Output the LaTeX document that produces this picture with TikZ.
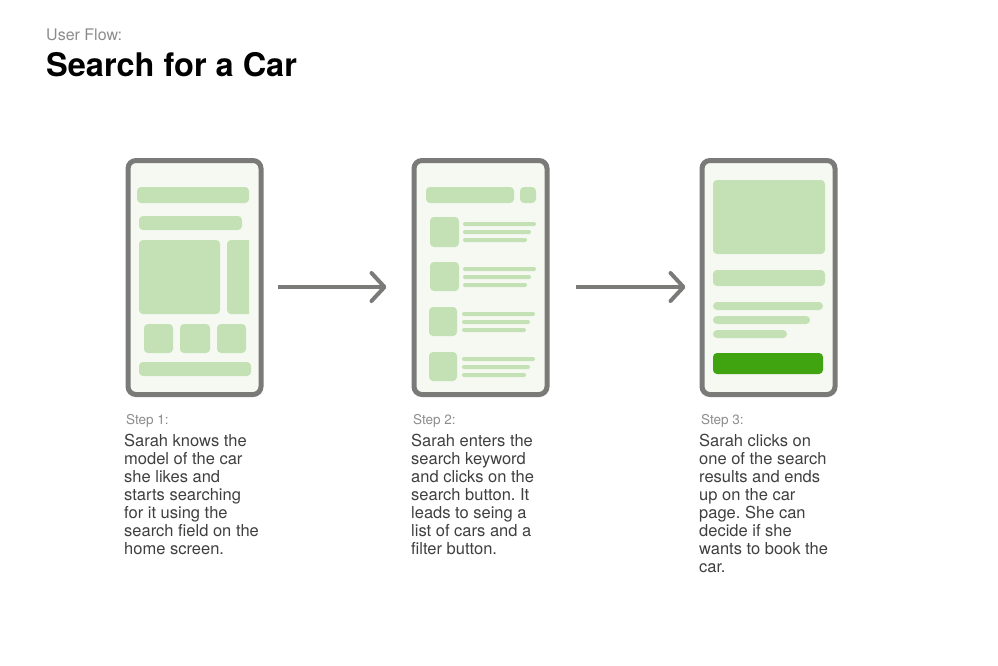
\documentclass[tikz,border=0pt]{standalone}
\usepackage{fontspec}
\setmainfont{TeX Gyre Heros}
\usetikzlibrary{arrows.meta,positioning}
\frenchspacing

\definecolor{framegray}{HTML}{7A7B79}
\definecolor{screenbg}{HTML}{F5F9F2}
\definecolor{uigreen}{HTML}{C3E1B4}
\definecolor{btngreen}{HTML}{3FA40F}
\definecolor{labelgray}{HTML}{8C8C8C}
\definecolor{bodygray}{HTML}{3F3F3F}

\begin{document}
\begin{tikzpicture}[
  x=1pt, y=-1pt,
  phone/.style={draw=framegray, fill=screenbg, line width=5pt, rounded corners=8pt,
    minimum width=133pt, minimum height=234pt, inner sep=0pt},
  block/.style={fill=uigreen, rounded corners=4pt},
  textline/.style={fill=uigreen, rounded corners=2pt},
  kicker/.style={anchor=base west, inner sep=0pt, text=labelgray, font=\fontsize{16}{19}\selectfont},
  headline/.style={anchor=base west, inner sep=0pt, font=\fontsize{32.5}{38}\selectfont\bfseries},
  steplabel/.style={anchor=base west, inner sep=0pt, text=labelgray, font=\fontsize{13.5}{16}\selectfont},
  desc/.style={anchor=north west, inner sep=0pt, align=left, text=bodygray, font=\fontsize{16.5}{18}\selectfont},
  flow/.style={draw=framegray, line width=4pt, -{Straight Barb[length=13pt, width=28pt, round]}}
]
\useasboundingbox (0,0) rectangle (998,665);

\node[kicker] (kick) at (46,40) {User Flow:};
\node[headline] (title) at (46,76) {Search for a Car};

% phones
\node[phone] (phone1) at (194.5,277.5) {};
\node[phone] (phone2) at (480.5,277.5) {};
\node[phone] (phone3) at (768.5,277.5) {};

% home screen
\fill[block] (137,187) rectangle (249,203);
\fill[block] (139,216) rectangle (242,230);
\fill[block] (139,240) rectangle (220,314);
\fill[uigreen] (249,240) [rounded corners=4pt] -- (227,240) -- (227,314) [sharp corners] -- (249,314) -- cycle;
\fill[block] (144,324) rectangle (173,353);
\fill[block] (180,324) rectangle (210,353);
\fill[block] (217,324) rectangle (246,353);
\fill[block] (139,362) rectangle (251,376);

% results screen
\fill[block] (426,187) rectangle (514,203);
\fill[block] (520,187) rectangle (536,203);
\fill[block] (430,217) rectangle (459,247);
\fill[textline] (463,222) rectangle (536,226);
\fill[textline] (463,230) rectangle (531,234);
\fill[textline] (463,238) rectangle (527,242);
\fill[block] (430,262) rectangle (459,291);
\fill[textline] (463,267) rectangle (536,271);
\fill[textline] (463,275) rectangle (531,279);
\fill[textline] (463,283) rectangle (527,287);
\fill[block] (429,307) rectangle (457,336);
\fill[textline] (462,312) rectangle (535,316);
\fill[textline] (462,320) rectangle (530,324);
\fill[textline] (462,328) rectangle (526,332);
\fill[block] (429,352) rectangle (457,381);
\fill[textline] (462,357) rectangle (535,361);
\fill[textline] (462,365) rectangle (530,369);
\fill[textline] (462,373) rectangle (526,377);

% car page
\fill[block] (713,180) rectangle (825,254);
\fill[block] (713,270) rectangle (825,286);
\fill[textline, rounded corners=4pt] (713,302) rectangle (823,310);
\fill[textline, rounded corners=4pt] (713,316) rectangle (810,324);
\fill[textline, rounded corners=4pt] (713,330) rectangle (787,338);
\fill[block, fill=btngreen] (713,353) rectangle (823,374);

% arrows
\draw[flow, shorten <=14pt, shorten >=25pt] ([yshift=-9.5pt]phone1.east) -- ([yshift=-9.5pt]phone2.west);
\draw[flow, shorten <=26pt, shorten >=14pt] ([yshift=-9.5pt]phone2.east) -- ([yshift=-9.5pt]phone3.west);

% captions
\node[steplabel] (step1) at (126,424) {Step 1:};
\node[desc] (desc1) at (124,434) {Sarah knows the\\model of the car\\she likes and\\starts searching\\for it using the\\search field on the\\home screen.};
\node[steplabel] (step2) at (413,424) {Step 2:};
\node[desc] (desc2) at (411,434) {Sarah enters the\\search keyword\\and clicks on the\\search button. It\\leads to seing a\\list of cars and a\\filter button.};
\node[steplabel] (step3) at (701,424) {Step 3:};
\node[desc] (desc3) at (699,434) {Sarah clicks on\\one of the search\\results and ends\\up on the car\\page. She can\\decide if she\\wants to book the\\car.};

\end{tikzpicture}
\end{document}
